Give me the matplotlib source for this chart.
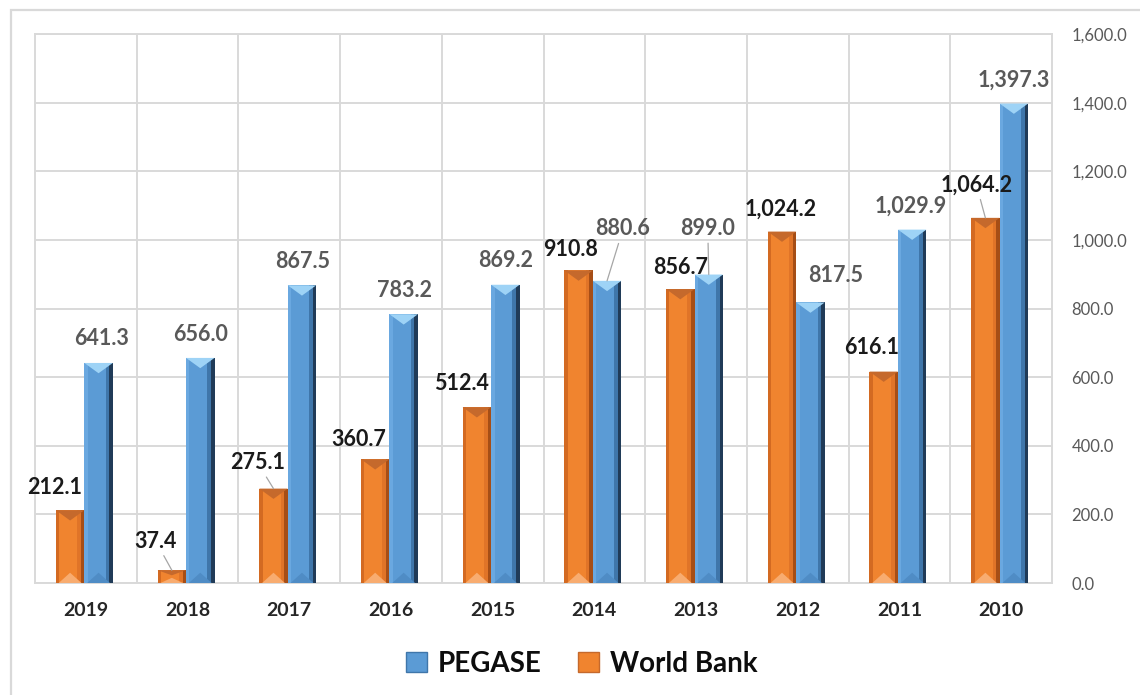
import matplotlib
matplotlib.use('Agg')
import matplotlib.pyplot as plt
from matplotlib.patches import Polygon, Patch, Rectangle

plt.rcParams['font.family'] = ['Lato', 'DejaVu Sans']

years = ['2019', '2018', '2017', '2016', '2015', '2014', '2013', '2012', '2011', '2010']
pegase = [641.3, 656.0, 867.5, 783.2, 869.2, 880.6, 899.0, 817.5, 1029.9, 1397.3]
world_bank = [212.1, 37.4, 275.1, 360.7, 512.4, 910.8, 856.7, 1024.2, 616.1, 1064.2]

# label offsets from bar top, in pixels (dx right, dy up) and leader flags
wb_off = [(-15, 23), (-16, 29), (-16, 26), (-16, 20), (-15, 24),
          (-8, 21), (0, 22), (-1, 22), (-12, 24), (-9, 33)]
wb_lead = [False, True, True, False, False, False, False, False, False, True]
pg_off = [(3, 24), (0, 23), (1, 24), (1, 24), (0, 24),
          (16, 52), (-1, 46), (25, 27), (-1, 23), (0, 23)]
pg_lead = [False, False, False, False, False, True, True, False, False, False]

W = 0.28
ORANGE_X = -0.155
BLUE_X = 0.125


def bevel_bar(ax, x, v, base, left, right, right2, top, bottom):
    ax.bar(x, v, W, color=base, zorder=3)
    ax.bar(x - W / 2 + W * 0.06, v, W * 0.12, color=left, zorder=3)
    ax.bar(x + W / 2 - W * 0.125, v, W * 0.25, color=right, zorder=3)
    ax.bar(x + W / 2 - W * 0.06, v, W * 0.12, color=right2, zorder=3)
    h = min(30.0, v / 2.5)
    ax.add_patch(Polygon([(x - W / 2, v), (x + W / 2, v), (x, v - h)],
                         closed=True, color=top, zorder=4, lw=0))
    ax.add_patch(Polygon([(x - W / 2 + W * 0.1, 0), (x + W / 2 - W * 0.1, 0), (x, h)],
                         closed=True, color=bottom, zorder=4, lw=0))


fig = plt.figure(figsize=(11.4, 6.95), dpi=100)
ax = fig.add_axes([35 / 1140, 1 - 583 / 695, (1052 - 35) / 1140, (583 - 34) / 695])

# outer chart border
fig.add_artist(Rectangle((11 / 1140, -0.05), 1.2, 1 - 10 / 695 + 0.05,
                         transform=fig.transFigure, fill=False,
                         edgecolor='#D9D9D9', lw=1.6))

for i in range(len(years)):
    bevel_bar(ax, i + ORANGE_X, world_bank[i], '#F0842F', '#D36A22', '#E07428',
              '#A64E16', '#C5692C', '#F8AC70')
    bevel_bar(ax, i + BLUE_X, pegase[i], '#5B9BD5', '#6AA8E0', '#3F76AA',
              '#203B58', '#9ED3F6', '#4F8CC5')

    for vals, xo, offs, leads, col in [(world_bank, ORANGE_X, wb_off, wb_lead, '#1A1A1A'),
                                       (pegase, BLUE_X, pg_off, pg_lead, '#595959')]:
        dx, dy = offs[i]
        ap = None
        if leads[i]:
            ap = dict(arrowstyle='-', color='#A6A6A6', lw=0.9, shrinkA=1, shrinkB=0)
        ax.annotate(f'{vals[i]:,.1f}', xy=(i + xo, vals[i]),
                    xytext=(dx * 0.72, dy * 0.72), textcoords='offset points',
                    ha='center', va='center', fontsize=15.5, fontweight='bold',
                    color=col, arrowprops=ap, zorder=6)

ax.set_xlim(-0.5, len(years) - 0.5)
ax.set_ylim(0, 1600)
ax.set_yticks(range(0, 1601, 200))
ax.set_yticklabels([f'{t:,.1f}' for t in range(0, 1601, 200)])
ax.yaxis.tick_right()
ax.tick_params(axis='y', length=0, pad=14, labelsize=12, labelcolor='#595959')

ax.set_xticks(range(len(years)))
ax.set_xticklabels(years, fontweight='bold')
ax.tick_params(axis='x', length=0, pad=14, labelsize=14, labelcolor='#262626')

ax.set_xticks([i + 0.5 for i in range(len(years) - 1)], minor=True)
ax.tick_params(axis='x', which='minor', length=0)
ax.grid(axis='y', color='#D9D9D9', lw=1.4, zorder=0)
ax.grid(axis='x', which='minor', color='#D9D9D9', lw=1.4, zorder=0)
ax.grid(axis='x', which='major', visible=False)
ax.set_axisbelow(True)
for s in ax.spines.values():
    s.set_color('#D9D9D9')
    s.set_linewidth(1.4)

handles = [Patch(facecolor='#5B9BD5', edgecolor='#3F76AA', label='PEGASE'),
           Patch(facecolor='#F0842F', edgecolor='#C5692C', label='World Bank')]
fig.legend(handles=handles, loc='center', bbox_to_anchor=(582 / 1140, 1 - 664 / 695),
           ncol=2, frameon=False, prop={'size': 20, 'weight': 'bold'},
           handlelength=0.75, handleheight=0.75, handletextpad=0.4, columnspacing=1.3,
           labelcolor='#0D0D0D')

fig.savefig('out.png', dpi=100)
plt.close(fig)
